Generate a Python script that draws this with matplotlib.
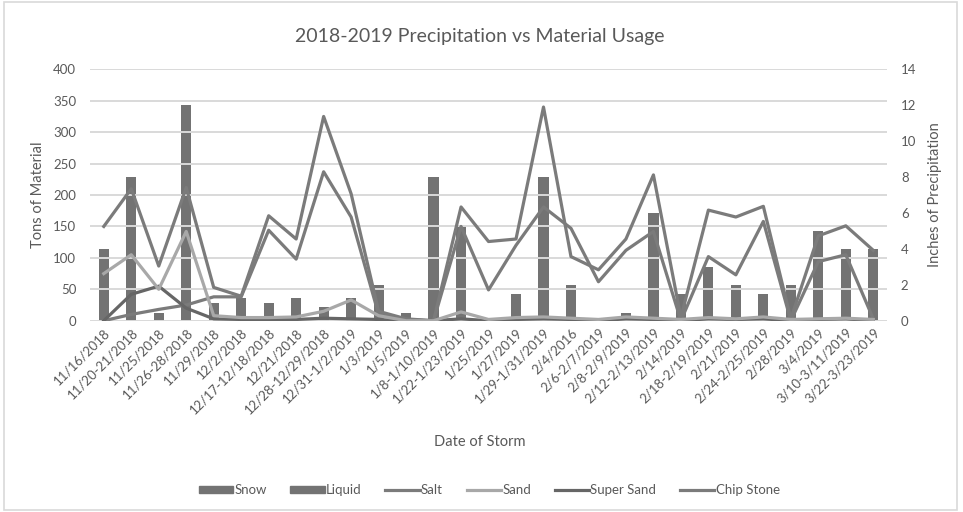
"""
Precipitation vs material usage, winter 2018-2019
"""

import matplotlib
matplotlib.use('Agg')
import matplotlib.pyplot as plt
from matplotlib.patches import Patch, Rectangle
from matplotlib.lines import Line2D
import numpy as np

# Storm dates (x categories)
storms = ['11/16/2018', '11/20-21/2018', '11/25/2018', '11/26-28/2018', '11/29/2018',
          '12/2/2018', '12/17-12/18/2018', '12/21/2018', '12/28-12/29/2018',
          '12/31-1/2/2019', '1/3/2019', '1/5/2019', '1/8-1/10/2019', '1/22-1/23/2019',
          '1/25/2019', '1/27/2019', '1/29-1/31/2019', '2/4/2016', '2/6-2/7/2019',
          '2/8-2/9/2019', '2/12-2/13/2019', '2/14/2019', '2/18-2/19/2019', '2/21/2019',
          '2/24-2/25/2019', '2/28/2019', '3/4/2019', '3/10-3/11/2019', '3/22-3/23/2019']

# Precipitation (inches) - right axis
snow = [4, 8, 0, 12, 1.0, 1.25, 1.0, 1.25, 0.75, 1.25, 2, 0, 8, 5.25, 0, 1.5, 8, 2, 0,
        0, 6, 1.5, 3, 2, 1.5, 2, 5, 4, 4]
liquid = [0, 0, 0.45, 0, 0, 0, 0, 0, 0, 0, 0, 0.45, 0, 0, 0, 0, 0, 0, 0,
          0.45, 0, 0, 0, 0, 0, 0, 0, 0, 0]

# Material used (tons) - left axis
salt = [150, 210, 87, 212, 53, 39, 167, 130, 325, 202, 15, 3, 0, 181, 126, 130, 340, 102,
        81, 130, 232, 5, 176, 165, 182, 3, 135, 151, 112]
sand = [75, 105, 50, 142, 8, 5, 5, 6, 15, 33, 8, 0, 0, 14, 2, 5, 6, 4, 2, 6, 4, 2, 5, 3,
        6, 2, 3, 4, 2]
super_sand = [0, 42, 55, 20, 3, 2, 2, 2, 4, 3, 2, 0, 0, 3, 0, 2, 3, 2, 0, 3, 2, 0, 3, 2,
              3, 0, 2, 3, 0]
chip_stone = [0, 10, 18, 25, 38, 38, 144, 98, 237, 165, 10, 2, 0, 150, 49, 120, 181, 147,
              62, 112, 142, 0, 102, 73, 158, 0, 94, 105, 3]

TXT = '#595959'
GRID = '#d9d9d9'
BAR = '#737373'

plt.rcParams['font.family'] = ['Lato', 'DejaVu Sans']

fig = plt.figure(figsize=(9.63, 5.12), dpi=100)
ax = fig.add_axes([0.0935, 0.3736, 0.8276, 0.491])
ax2 = ax.twinx()

x = np.arange(len(storms))

# bars (precipitation) on the secondary axis, behind the lines
ax2.bar(x, snow, width=0.37, color=BAR, zorder=2)
ax2.bar(x, liquid, width=0.37, color=BAR, zorder=2)

# lines on the primary axis
ax.plot(x, salt, color='#7b7b7b', lw=2.3, zorder=3)
ax.plot(x, chip_stone, color='#7b7b7b', lw=2.3, zorder=3)
ax.plot(x, super_sand, color='#666666', lw=2.3, zorder=3)
ax.plot(x, sand, color='#a8a8a8', lw=2.3, zorder=3)

ax.set_zorder(ax2.get_zorder() + 1)
ax.patch.set_visible(False)

ax.set_xlim(-0.5, len(storms) - 0.5)
ax.set_ylim(0, 400)
ax.set_yticks(np.arange(0, 401, 50))
ax2.set_ylim(0, 14)
ax2.set_yticks(np.arange(0, 15, 2))

ax.grid(axis='y', color=GRID, lw=1.4)
ax.set_axisbelow(True)
for a in (ax, ax2):
    for s in a.spines.values():
        s.set_visible(False)
    a.tick_params(length=0, colors=TXT, labelsize=9.5)

ax.set_xticks(x)
ax.set_xticklabels(storms, rotation=45, ha='right', rotation_mode='anchor', fontsize=9.5)
ax.tick_params(axis='x', pad=4)
ax.tick_params(axis='y', pad=10)
ax2.tick_params(axis='y', pad=10)

ax.set_ylabel('Tons of Material', color=TXT, fontsize=10.5, labelpad=6)
ax2.set_ylabel('Inches of Precipitation', color=TXT, fontsize=10.5, labelpad=8)
fig.text(0.498, 0.136, 'Date of Storm', color=TXT, fontsize=10.5, ha='center', va='center')
fig.text(0.498, 0.928, '2018-2019 Precipitation vs Material Usage', color=TXT,
         fontsize=14, ha='center', va='center')

# legend along the bottom
handles = [Patch(color=BAR), Patch(color=BAR),
           Line2D([], [], color='#7b7b7b', lw=2.3), Line2D([], [], color='#a8a8a8', lw=2.3),
           Line2D([], [], color='#666666', lw=2.3), Line2D([], [], color='#7b7b7b', lw=2.3)]
labels = ['Snow', 'Liquid', 'Salt', 'Sand', 'Super Sand', 'Chip Stone']
leg = fig.legend(handles, labels, loc='center', bbox_to_anchor=(0.508, 0.043), ncol=6,
                 frameon=False, fontsize=9.5, handlelength=2.6, handleheight=0.5,
                 handletextpad=0.1, columnspacing=1.8)
for t in leg.get_texts():
    t.set_color(TXT)

# thin chart border
fig.patches.append(Rectangle((0.004, 0.004), 0.99, 0.993, transform=fig.transFigure,
                             fill=False, edgecolor=GRID, lw=1.2))

fig.savefig('out.png', dpi=100)
